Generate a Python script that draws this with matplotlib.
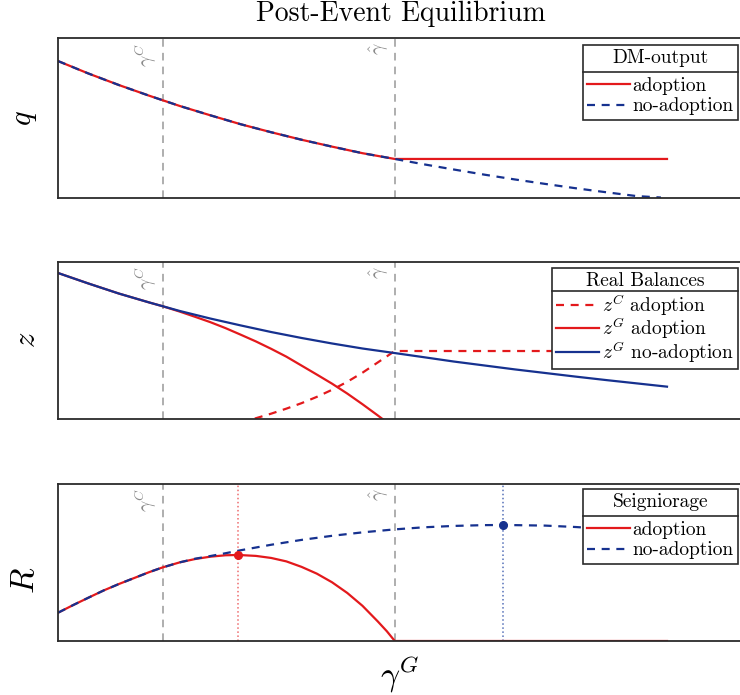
import numpy as np
import matplotlib.pyplot as plt
from matplotlib.lines import Line2D

plt.rcParams['font.family'] = 'cmr10'
plt.rcParams['mathtext.fontset'] = 'cm'
plt.rcParams['axes.formatter.use_mathtext'] = True

RED = '#e3191c'
BLUE = '#16318f'
GRAY = '#999999'
EDGE = '#2b2b2b'

gamma_C = 0.172
gamma_hat = 0.553

# DM-output q
q_g_pre = [0, 0.05, 0.1, 0.15, 0.2, 0.25, 0.3, 0.35, 0.4, 0.45, 0.5, 0.553]
q_pre = [0.856, 0.778, 0.706, 0.639, 0.575, 0.517, 0.461, 0.411, 0.364, 0.321, 0.280, 0.244]
q_g_post = [0.553, 0.6, 0.65, 0.7, 0.75, 0.8, 0.85, 0.9, 0.95, 0.99]
q_noadopt_post = [0.244, 0.211, 0.178, 0.146, 0.116, 0.088, 0.061, 0.036, 0.012, 0.003]
q_adopt_post = [0.244, 0.244]
q_g_flat = [0.553, 1.0]

# real balances z
z_g = [0, 0.05, 0.1, 0.15, 0.2, 0.25, 0.3, 0.35, 0.4, 0.45, 0.5, 0.553,
       0.6, 0.65, 0.7, 0.75, 0.8, 0.85, 0.9, 0.95, 1.0]
zG_noadopt = [0.930, 0.863, 0.799, 0.742, 0.688, 0.640, 0.596, 0.554, 0.516, 0.481, 0.449, 0.420,
              0.394, 0.366, 0.341, 0.316, 0.293, 0.270, 0.248, 0.227, 0.206]
zG_adopt_g = [0, 0.05, 0.1, 0.15, 0.172, 0.2, 0.225, 0.25, 0.275, 0.3, 0.325, 0.35, 0.375,
              0.4, 0.425, 0.45, 0.475, 0.5, 0.525, 0.553]
zG_adopt = [0.930, 0.863, 0.799, 0.742, 0.718, 0.684, 0.651, 0.617, 0.579, 0.537, 0.494, 0.447, 0.397,
            0.340, 0.283, 0.225, 0.162, 0.094, 0.023, -0.059]
zC_adopt_g = [0.3, 0.325, 0.35, 0.375, 0.4, 0.425, 0.45, 0.475, 0.5, 0.525, 0.553, 1.0]
zC_adopt = [-0.023, 0.005, 0.034, 0.066, 0.101, 0.141, 0.186, 0.237, 0.295, 0.360, 0.433, 0.433]

# seigniorage R
R_adopt_g = [0, 0.025, 0.05, 0.075, 0.1, 0.125, 0.15, 0.172, 0.2, 0.225, 0.25, 0.275, 0.296,
             0.325, 0.35, 0.375, 0.4, 0.425, 0.45, 0.475, 0.5, 0.525, 0.54, 0.553, 1.0]
R_adopt = [0.180, 0.229, 0.276, 0.322, 0.363, 0.401, 0.439, 0.469, 0.501, 0.522, 0.537, 0.546, 0.548,
           0.542, 0.529, 0.507, 0.472, 0.429, 0.374, 0.306, 0.224, 0.125, 0.062, 0.0, 0.0]
R_noadopt_g = [0, 0.025, 0.05, 0.075, 0.1, 0.125, 0.15, 0.172, 0.2, 0.225, 0.25, 0.275, 0.3,
               0.35, 0.4, 0.45, 0.5, 0.553, 0.6, 0.65, 0.7, 0.731, 0.75, 0.8, 0.85, 0.9, 0.95, 1.0]
R_noadopt = [0.180, 0.229, 0.276, 0.322, 0.363, 0.401, 0.439, 0.469, 0.501, 0.524, 0.541, 0.559, 0.578,
             0.613, 0.644, 0.670, 0.692, 0.711, 0.724, 0.733, 0.738, 0.739, 0.738, 0.735, 0.726,
             0.714, 0.697, 0.676]
R_peak_adopt = (0.296, 0.548)
R_peak_noadopt = (0.731, 0.739)

fig = plt.figure(figsize=(7.4, 6.95), dpi=100)
W, H = 740, 695
left = 58 / W
ax1 = fig.add_axes([left, 1 - 198 / H, 1 - left, 160 / H])
ax2 = fig.add_axes([left, 1 - 419 / H, 1 - left, 157 / H])
ax3 = fig.add_axes([left, 1 - 641 / H, 1 - left, 157 / H])

dash = (0, (3.6, 3.0))
lw = 1.6

for ax in (ax1, ax2, ax3):
    ax.set_xlim(0, (740 - 58) / 609)
    ax.set_ylim(0, 1)
    ax.set_xticks([])
    ax.set_yticks([])
    ax.spines['right'].set_visible(False)
    for s in ('top', 'left', 'bottom'):
        ax.spines[s].set_color(EDGE)
        ax.spines[s].set_linewidth(1.3)
    ax.axvline(gamma_C, color=GRAY, ls=(0, (5, 4)), lw=1.1, zorder=1)
    ax.axvline(gamma_hat, color=GRAY, ls=(0, (5, 4)), lw=1.1, zorder=1)
    tr = ax.get_xaxis_transform()
    ax.text(gamma_C - 0.006, 0.97, r'$\gamma^C$', rotation=90, ha='right', va='top',
            color='#8a8a8a', fontsize=14, transform=tr)
    ax.text(gamma_hat - 0.006, 0.97, r'$\hat{\gamma}$', rotation=90, ha='right', va='top',
            color='#8a8a8a', fontsize=14, transform=tr)

# panel q
l1, = ax1.plot(q_g_pre + q_g_flat[1:], q_pre + q_adopt_post[1:], color=RED, lw=lw, label='adoption')
l2, = ax1.plot(q_g_pre + q_g_post[1:], q_pre + q_noadopt_post[1:], color=BLUE, lw=lw, ls=dash,
               label='no-adoption')

# panel z
m1, = ax2.plot(zC_adopt_g, zC_adopt, color=RED, lw=lw, ls=dash, label=r'$z^C$ adoption')
m2, = ax2.plot(zG_adopt_g, zG_adopt, color=RED, lw=lw, label=r'$z^G$ adoption')
m3, = ax2.plot(z_g, zG_noadopt, color=BLUE, lw=lw, label=r'$z^G$ no-adoption')

# panel R
ax3.axvline(R_peak_adopt[0], color='#ee6b6d', ls=':', lw=1.1, zorder=1)
ax3.axvline(R_peak_noadopt[0], color='#5570b8', ls=':', lw=1.1, zorder=1)
n1, = ax3.plot(R_adopt_g, R_adopt, color=RED, lw=lw, label='adoption')
n2, = ax3.plot(R_noadopt_g, R_noadopt, color=BLUE, lw=lw, ls=dash, label='no-adoption')
ax3.plot(*R_peak_adopt, 'o', color=RED, ms=5.5, zorder=5)
ax3.plot(*R_peak_noadopt, 'o', color=BLUE, ms=5.5, zorder=5)

fig.text(25 / W, 1 - 118 / H, r'$q$', rotation=90, ha='center', va='center', fontsize=22)
fig.text(27 / W, 1 - 340 / H, r'$z$', rotation=90, ha='center', va='center', fontsize=22)
fig.text(25 / W, 1 - 580 / H, r'$R$', rotation=90, ha='center', va='center', fontsize=24)
fig.text(400 / W, 1 - 674 / H, r'$\gamma^G$', ha='center', va='center', fontsize=24)

fig.text(401 / W, 1 - 14 / H, 'Post-Event Equilibrium', ha='center', va='center', fontsize=20)

legends = []
for ax, handles, title, top, spacing, sep in ((ax1, [l1, l2], 'DM-output', 45, 0.12, 7),
                                              (ax2, [m1, m2, m3], 'Real Balances', 268, -0.12, 1),
                                              (ax3, [n1, n2], 'Seigniorage', 489, 0.12, 7)):
    leg = ax.legend(handles=handles, title=title, loc='upper right',
                    bbox_to_anchor=(738 / W, 1 - top / H), bbox_transform=fig.transFigure,
                    borderaxespad=0, fontsize=14, title_fontsize=14, fancybox=False,
                    framealpha=1, edgecolor=EDGE, handlelength=2.2, handletextpad=0.15,
                    labelspacing=spacing, borderpad=0.22)
    leg.get_frame().set_linewidth(1.2)
    leg._legend_box.sep = sep
    legends.append(leg)

fig.canvas.draw()
r = fig.canvas.get_renderer()
inv = fig.transFigure.inverted()
for leg in legends:
    bb = leg.get_window_extent(r)
    tb = leg.get_title().get_window_extent(r)
    hb = leg._legend_handle_box.get_window_extent(r)
    y = 0.5 * (tb.y0 + hb.y1)
    (x0, yy), (x1, _) = inv.transform([[bb.x0, y], [bb.x1, y]])
    fig.add_artist(Line2D([x0, x1], [yy, yy], color=EDGE, lw=1.2, transform=fig.transFigure))

fig.savefig('out.png', dpi=100)
